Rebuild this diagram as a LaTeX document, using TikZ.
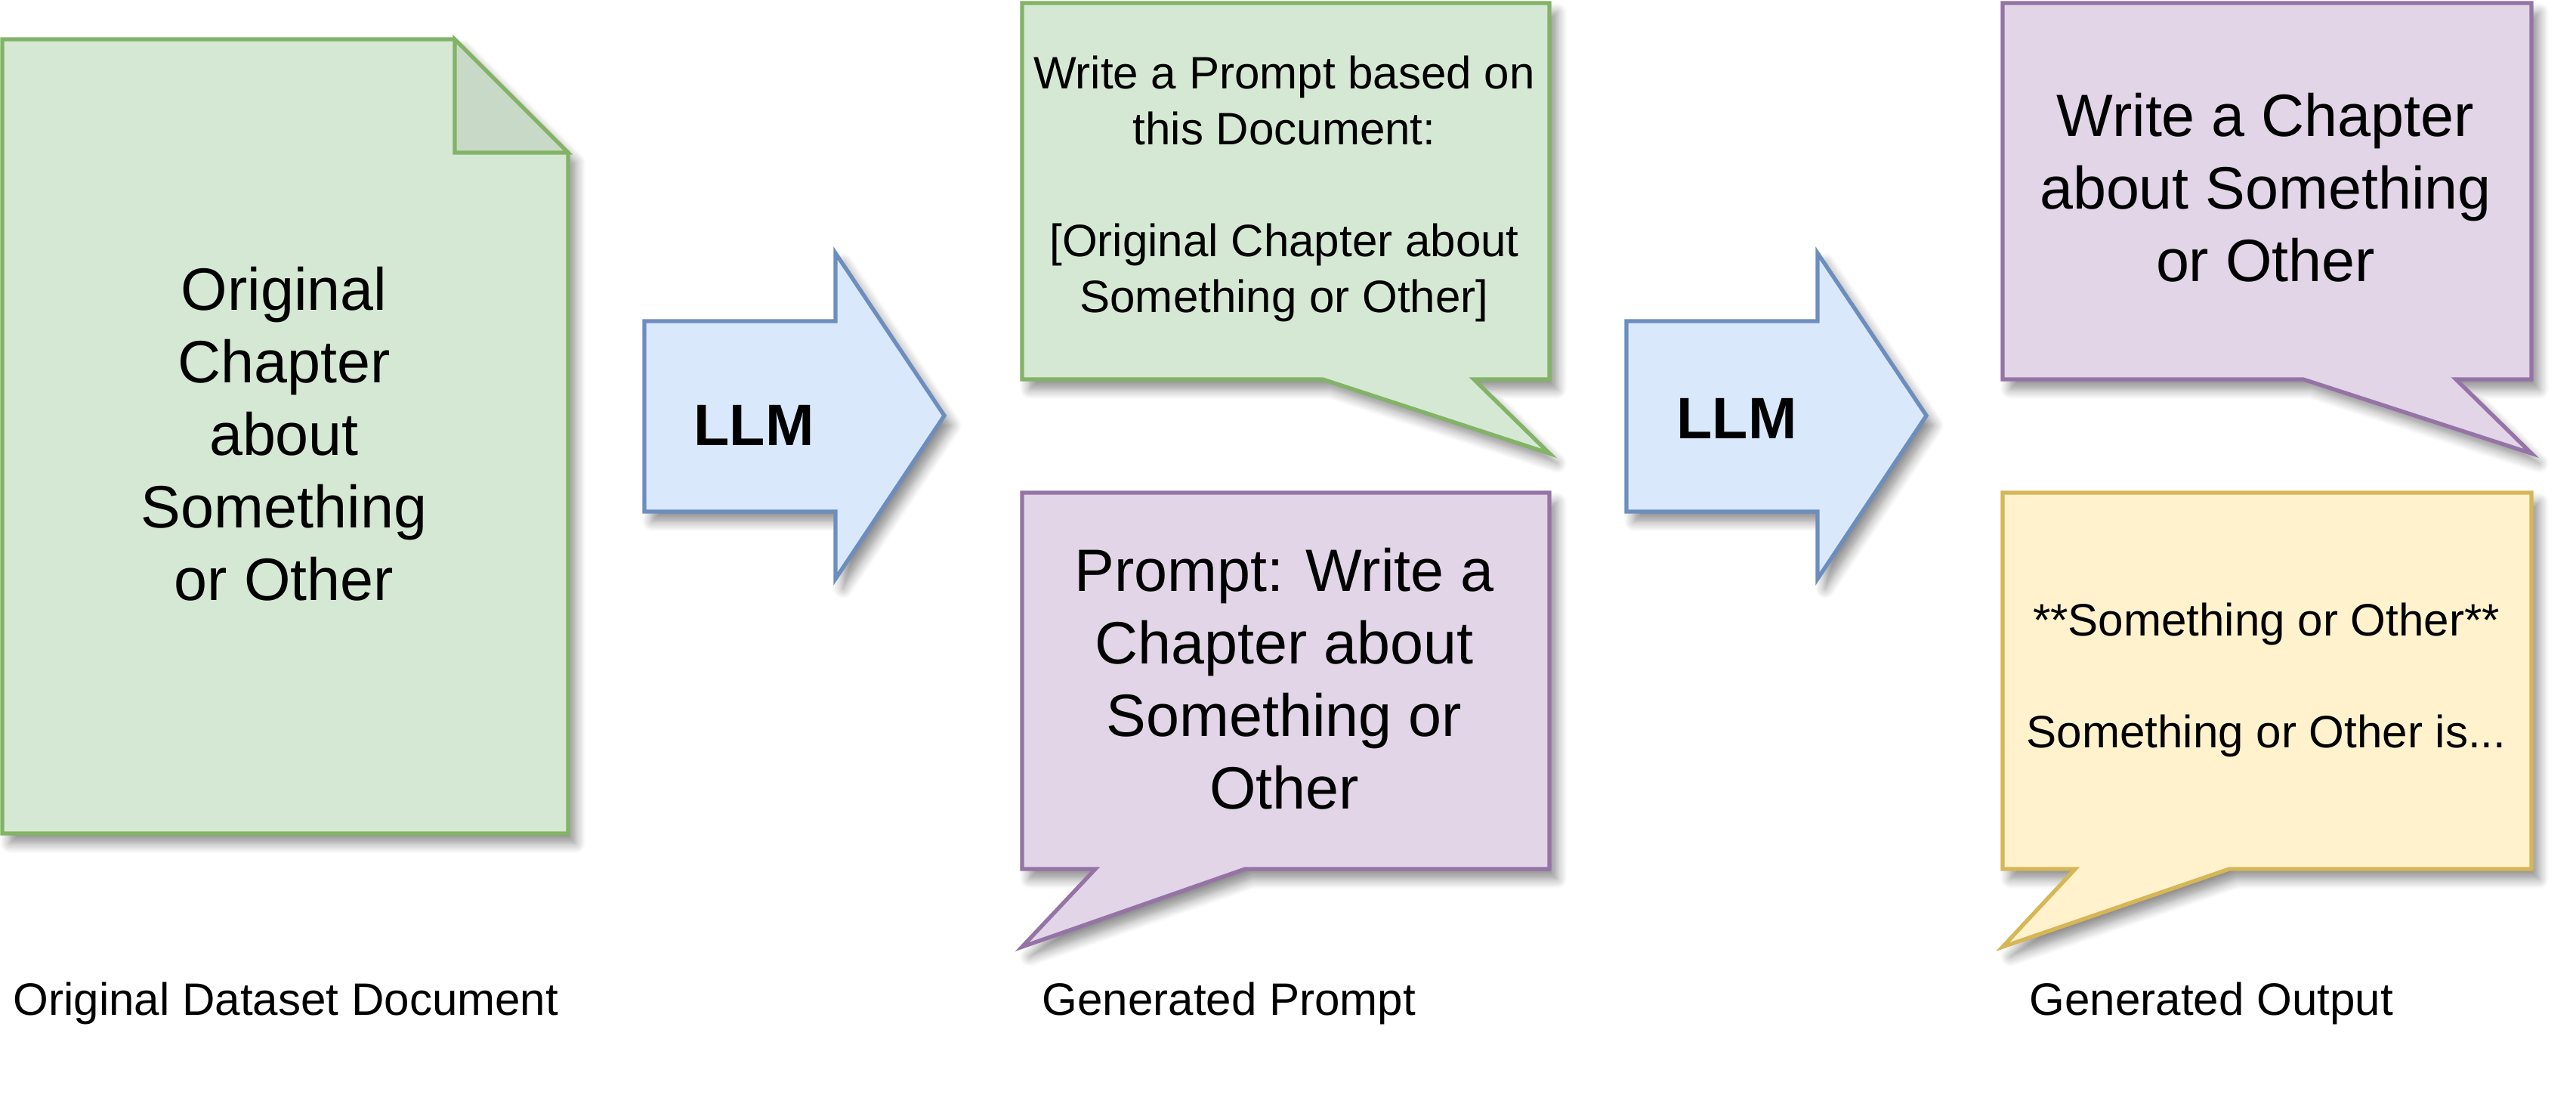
\documentclass[tikz,border=0pt]{standalone}
\usepackage{fontspec}
\setmainfont{Liberation Sans}
\usetikzlibrary{shadows.blur}
\definecolor{greenfill}{HTML}{D5E8D4}
\definecolor{greenline}{HTML}{82B366}
\definecolor{foldfill}{HTML}{C8DAC7}
\definecolor{bluefill}{HTML}{DAE8FC}
\definecolor{blueline}{HTML}{6C8EBF}
\definecolor{purplefill}{HTML}{E1D5E7}
\definecolor{purpleline}{HTML}{9673A6}
\definecolor{yellowfill}{HTML}{FFF2CC}
\definecolor{yellowline}{HTML}{D6B656}
\tikzset{
  softshadow/.style={blur shadow={shadow xshift=0.1cm, shadow yshift=-0.13cm,
      shadow blur radius=0.13cm, shadow opacity=45, shadow blur steps=8}},
  shape line/.style={line width=1.5pt, line join=miter, softshadow},
  greenshape/.style={shape line, draw=greenline, fill=greenfill},
  blueshape/.style={shape line, draw=blueline, fill=bluefill},
  purpleshape/.style={shape line, draw=purpleline, fill=purplefill},
  yellowshape/.style={shape line, draw=yellowline, fill=yellowfill},
  bigtext/.style={align=center, inner sep=0pt, font=\fontsize{22.5}{27.3}\selectfont},
  smalltext/.style={align=center, inner sep=0pt, font=\fontsize{17.1}{21}\selectfont},
  llmtext/.style={anchor=base, inner sep=0pt, font=\fontsize{22}{26}\selectfont\bfseries},
  caption/.style={anchor=base west, inner sep=0pt, font=\fontsize{17.1}{21}\selectfont}
}
\begin{document}
\begin{tikzpicture}
\useasboundingbox (0,0) rectangle (34.10,14.60);
% original document
\draw[greenshape] (0.03,14.08) -- (6.02,14.08) -- (7.52,12.58) -- (7.52,3.57) -- (0.03,3.57) -- cycle;
\draw[line width=1.5pt, draw=greenline, fill=foldfill, line join=miter] (6.02,14.08) -- (6.02,12.58) -- (7.52,12.58) -- cycle;
\node[bigtext] (doctext) at (3.76,8.86) {Original\\Chapter\\about\\Something\\or Other};
% LLM arrows
\foreach \ax in {8.53, 21.53}{
  \draw[blueshape] (\ax,10.35) -- (\ax+2.53,10.35) -- (\ax+2.53,11.25) -- (\ax+3.97,9.10)
    -- (\ax+2.53,6.94) -- (\ax+2.53,7.83) -- (\ax,7.83) -- cycle;
}
\node[llmtext] (llmone) at (9.98,8.70) {LLM};
\node[llmtext] (llmtwo) at (22.99,8.79) {LLM};
% callouts, middle column
\draw[greenshape] (13.53,14.56) -- (20.51,14.56) -- (20.51,9.58) -- (19.51,9.58) -- (20.51,8.60)
  -- (17.51,9.58) -- (13.53,9.58) -- cycle;
\node[smalltext] (asktext) at (17.00,12.10)
  {Write a Prompt based on\\this Document:\\[21pt][Original Chapter about\\Something or Other]};
\draw[purpleshape] (13.53,8.08) -- (20.51,8.08) -- (20.51,3.10) -- (16.48,3.10) -- (13.53,2.07)
  -- (14.50,3.10) -- (13.53,3.10) -- cycle;
\node[bigtext] (prompttext) at (17.00,5.62) {Prompt: Write a\\Chapter about\\Something or\\Other};
% callouts, right column
\draw[purpleshape] (26.51,14.56) -- (33.51,14.56) -- (33.51,9.58) -- (32.51,9.58) -- (33.51,8.60)
  -- (30.49,9.58) -- (26.51,9.58) -- cycle;
\node[bigtext] (writetext) at (29.99,12.12) {Write a Chapter\\about Something\\or Other};
\draw[yellowshape] (26.51,8.08) -- (33.51,8.08) -- (33.51,3.10) -- (29.51,3.10) -- (26.51,2.07)
  -- (27.47,3.10) -- (26.51,3.10) -- cycle;
\node[smalltext] (outtext) at (30.00,5.60) {**Something or Other**\\[21pt]Something or Other is...};
% captions
\node[caption] (capdoc) at (0.17,1.17) {Original Dataset Document};
\node[caption] (capprompt) at (13.79,1.17) {Generated Prompt};
\node[caption] (capout) at (26.86,1.17) {Generated Output};
\end{tikzpicture}
\end{document}
